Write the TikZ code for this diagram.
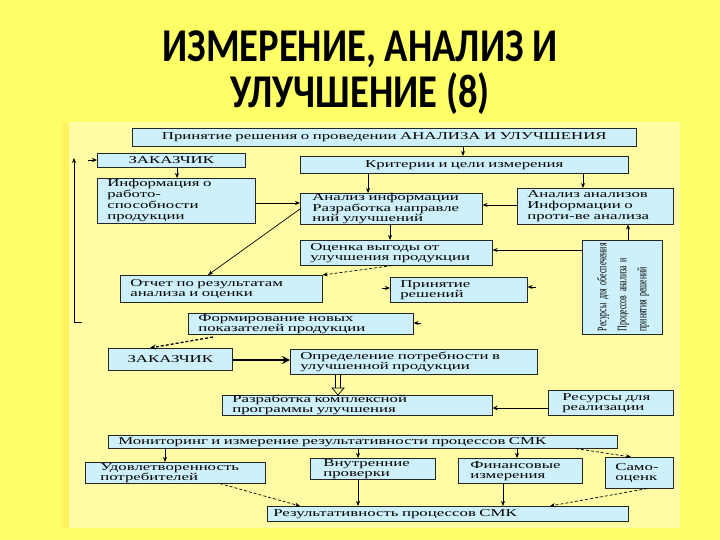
\documentclass[tikz,border=0pt]{standalone}
\usepackage{fontspec}
\usepackage{graphicx}
\usetikzlibrary{arrows.meta}
\newfontfamily\dfont{Liberation Serif}[FakeStretch=1.6]
\newfontfamily\nfont{Liberation Serif}[FakeStretch=0.6]
\newfontfamily\tfont{Carlito}[FakeStretch=0.82]
\definecolor{bgy}{RGB}{255,255,102}
\definecolor{insety}{RGB}{255,252,165}
\definecolor{stripy}{RGB}{255,244,96}
\definecolor{boxc}{RGB}{205,240,250}
\tikzset{
  bx/.code 2 args={\pgfmathsetmacro\bxtw{#1-20}\pgfkeysalso{minimum width=#1pt, minimum height=#2pt, text width=\bxtw pt}},
  box/.style={draw=black!85, line width=0.6pt, fill=boxc, inner xsep=10pt, inner ysep=0pt,
    anchor=north west, align=left, font=\dfont\fontsize{10.5}{10}\selectfont},
  ttl/.style={font=\tfont\bfseries\fontsize{47}{47}\selectfont, inner sep=0pt, anchor=base},
  arr/.style={line width=0.7pt, -{Stealth[length=5pt,width=4pt]}},
  dsh/.style={line width=0.7pt, dash pattern=on 3pt off 2pt}
}
\begin{document}
\begin{tikzpicture}[x=1pt,y=-1pt]
\useasboundingbox (0,0) rectangle (720,540);
\fill[bgy] (0,0) rectangle (720,540);
\fill[insety] (62,122) rectangle (680,528);
\fill[stripy] (62,122) rectangle (69,528);

\node[ttl] (t1) at (360,62) {ИЗМЕРЕНИЕ, АНАЛИЗ И};
\node[ttl] (t2) at (360,108) {УЛУЧШЕНИЕ (8)};

\node[box, bx={504}{18}, align=center] (A) at (132,128) {Принятие~решения~о~проведении~АНАЛИЗА~И~УЛУЧШЕНИЯ};
\node[box, bx={148}{14}, align=center] (zak1) at (97,153) {ЗАКАЗЧИК};
\node[box, bx={328}{17}, align=center] (C) at (300,156) {Критерии~и~цели~измерения};
\node[box, bx={158}{45}, font=\dfont\fontsize{10.5}{11}\selectfont] (D) at (97,178) {Информация~о\\работо-\\способности\\продукции};
\node[box, bx={182}{29}, font=\dfont\fontsize{10.5}{9}\selectfont, inner xsep=12pt, text width=158pt] (E) at (300,193) {Анализ~информации\\Разработка~направле\\ний~улучшений};
\node[box, bx={156}{36}, font=\dfont\fontsize{10.5}{11}\selectfont] (F) at (517,188) {Анализ~анализов\\Информации~о\\проти-ве~анализа};
\node[box, bx={192}{25}] (G) at (300,240) {Оценка~выгоды~от\\улучшения~продукции};
\node[box, bx={80}{94}, align=center, inner xsep=0pt, text width=80pt] (H) at (582,240)
  {\rotatebox{90}{\nfont\fontsize{13}{20}\selectfont\begin{tabular}{@{}l@{}}Ресурсы для обеспечения\\Процессов анализа и\\принятия решений\end{tabular}}};
\node[box, bx={202}{27}] (I) at (120,275) {Отчет~по~результатам\\анализа~и~оценки};
\node[box, bx={137}{25}] (J) at (390,277) {Принятие\\решений};
\node[box, bx={225}{21}] (K) at (188,313) {Формирование~новых\\показателей~продукции};
\node[box, bx={124}{22}, align=center] (zak2) at (108,348) {ЗАКАЗЧИК};
\node[box, bx={247}{25}] (M) at (290,349) {Определение~потребности~в\\улучшенной~продукции};
\node[box, bx={270}{20}] (N) at (222,395) {Разработка~комплексной\\программы~улучшения};
\node[box, bx={125}{25}, inner xsep=14pt, text width=97pt] (O) at (548,390) {Ресурсы~для\\реализации};
\node[box, bx={509}{13}] (P) at (108,435) {Мониторинг~и~измерение~результативности~процессов~СМК};
\node[box, bx={180}{21}, inner xsep=15pt, text width=150pt] (Q) at (85,462) {Удовлетворенность\\потребителей};
\node[box, bx={125}{21}, inner xsep=13pt, text width=99pt] (R) at (310,458) {Внутренние\\проверки};
\node[box, bx={124}{25}, inner xsep=12pt, text width=100pt] (S) at (458,458) {Финансовые\\измерения};
\node[box, bx={68}{31}] (T) at (605,457) {Само-\\оценк};
\node[box, bx={361}{15}, inner xsep=6pt, text width=349pt] (U) at (267,506) {Результативность~процессов~СМК};

% connectors
\draw[arr] (463,0 |- A.south) -- (463,0 |- C.north);
\draw[arr] (177,0 |- zak1.south) -- (177,0 |- D.north);
\draw[arr] (368,0 |- C.south) -- (368,0 |- E.north);
\draw[arr] (583,0 |- C.south) -- (583,0 |- F.north);
\draw[arr] (D.east |- 0,203) -- (E.west |- 0,203);
\draw[arr] (F.west |- 0,205) -- (E.east |- 0,205);
\draw[arr] (390,0 |- E.south) -- (390,0 |- G.north);
\draw[arr] (E.west |- 0,209) -- (208,0 |- I.north);
\draw[arr] (H.west |- 0,250) -- (G.east |- 0,250);
\draw[arr] (628,0 |- H.north) -- (628,0 |- F.south);
\draw[dsh,arr] (392,0 |- G.south) -- (I.north east);

\coordinate (lb) at (74,322);
\coordinate (lt) at (74,158);
\draw[arr] (lb) -- (lt);
\draw[line width=0.7pt] (lb) -- ++(8,0);
\coordinate (bs) at (88,160);
\draw[arr] (bs) -- (zak1.west |- bs);
\coordinate (j1) at (382,288);
\draw[arr] (j1) -- (J.west |- j1);
\coordinate (j2) at (536,287);
\draw[arr] (j2) -- (J.east |- j2);
\coordinate (k1) at (421,323);
\draw[arr] (k1) -- (K.east |- k1);

\coordinate (kl) at (213,337);
\draw[line width=1.3pt, dash pattern=on 3pt off 2pt, -{Stealth[length=6pt,width=5pt]}] (kl) -- (150,0 |- zak2.north);
\coordinate (lm) at (233,360);
\draw[black, line width=1.5pt, -{Stealth[open,length=8pt,width=8pt]}] (lm) -- (M.west |- lm);
% double hollow arrow M -> N
\coordinate (mn) at (338,388);
\draw[line width=0.7pt] (335.5,0 |- M.south) -- (335.5,388);
\draw[line width=0.7pt] (340.5,0 |- M.south) -- (340.5,388);
\draw[line width=0.7pt, fill=insety, line join=miter] ([xshift=-6pt]mn) -- ([xshift=6pt]mn) -- (338,0 |- N.north) -- cycle;
\draw[line width=0.7pt, -{Stealth[open,length=5pt,width=5pt]}] (O.west |- 0,408) -- (N.east |- 0,408);

\draw[arr] (165,0 |- P.south) -- (165,0 |- Q.north);
\draw[arr] (358,0 |- P.south) -- (358,0 |- R.north);
\draw[arr] (517,0 |- P.south) -- (517,0 |- S.north);
\draw[dsh,arr] (576,0 |- P.south) -- (631,0 |- T.north);
\draw[dsh,arr] (220,0 |- Q.south) -- (300,0 |- U.north);
\draw[arr] (358,0 |- R.south) -- (358,0 |- U.north);
\draw[arr] (503,0 |- S.south) -- (503,0 |- U.north);
\draw[dsh,arr] (647,0 |- T.south) -- (550,0 |- U.north);
\end{tikzpicture}
\end{document}
